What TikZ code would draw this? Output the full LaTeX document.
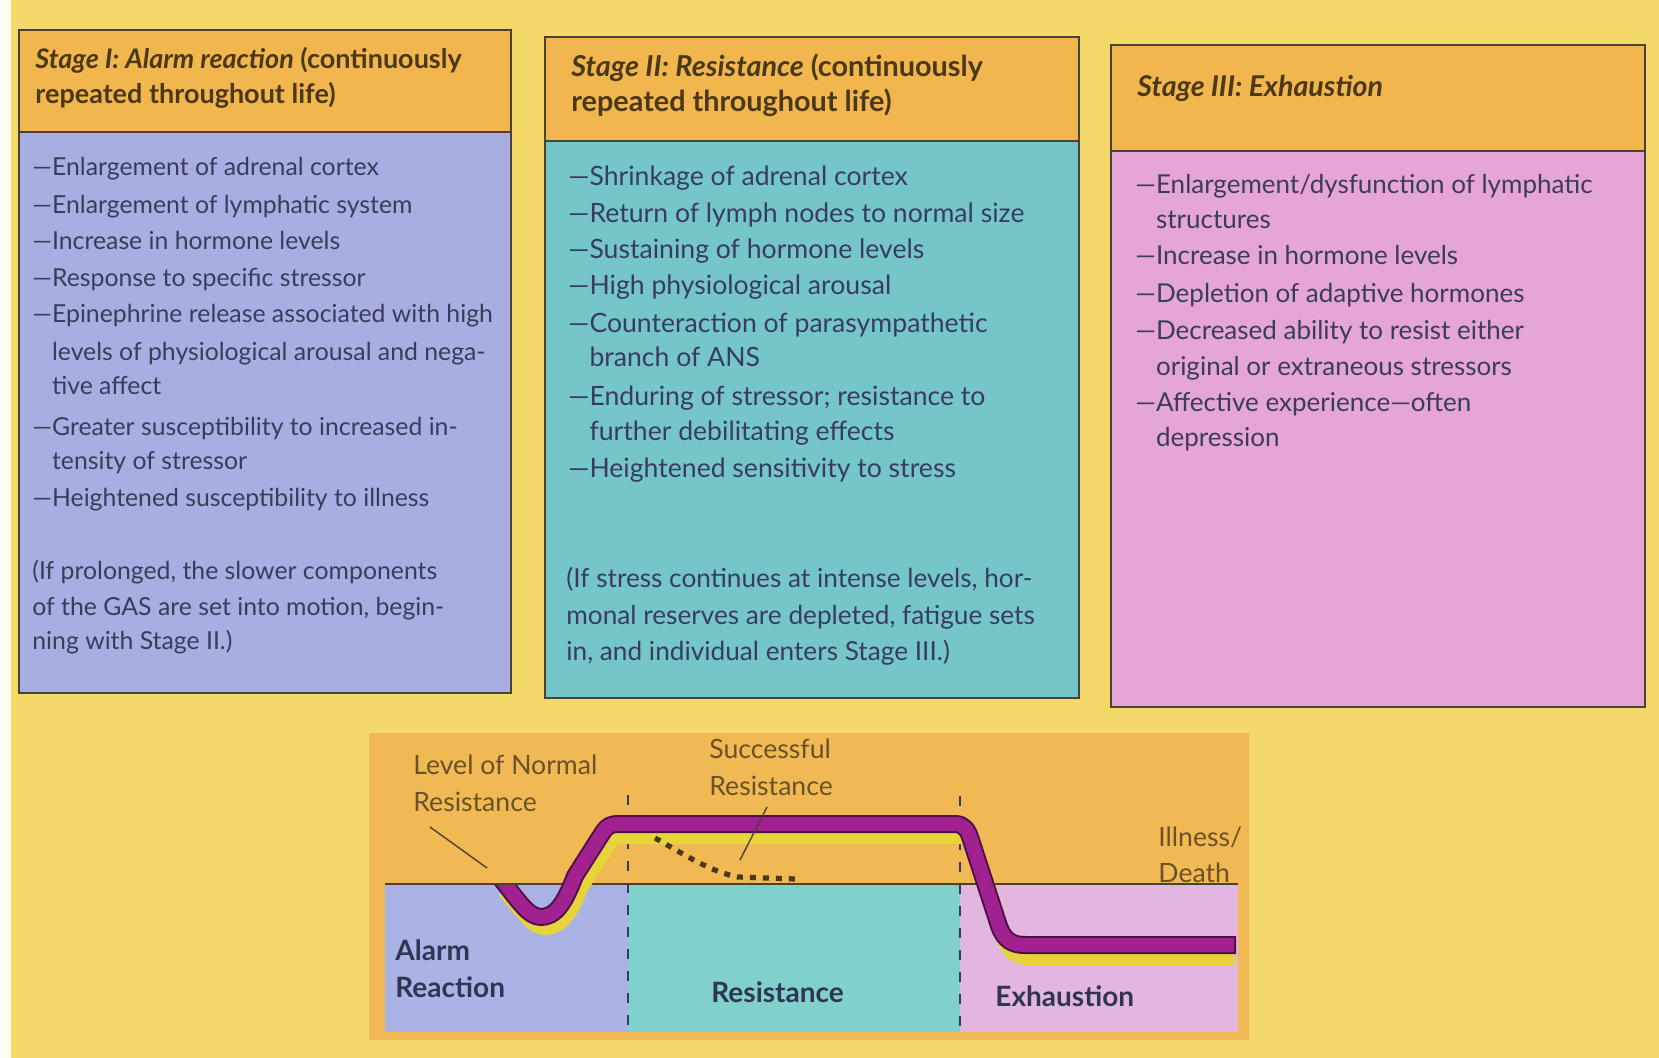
\documentclass[tikz,border=0pt]{standalone}
\usepackage{fontspec}
\setmainfont{Lato}
\definecolor{pagebg}{HTML}{F5D86A}
\definecolor{headbg}{HTML}{F1B64E}
\definecolor{boxa}{HTML}{A8AEE2}
\definecolor{boxb}{HTML}{74C6C9}
\definecolor{boxc}{HTML}{E6A5D7}
\definecolor{frame}{HTML}{4A4236}
\definecolor{txtc}{HTML}{3A3C5C}
\definecolor{headc}{HTML}{4A3818}
\definecolor{chorange}{HTML}{F0B954}
\definecolor{chblue}{HTML}{AAB2E6}
\definecolor{chteal}{HTML}{80D0CC}
\definecolor{chpink}{HTML}{E2B6DF}
\definecolor{purp}{HTML}{A0218F}
\definecolor{purpdark}{HTML}{4E0F48}
\definecolor{shadowy}{HTML}{E6D43A}
\definecolor{lblc}{HTML}{6A5228}
\definecolor{boldlbl}{HTML}{2F3552}
\definecolor{dashc}{HTML}{2F3A6B}
\begin{document}
\begin{tikzpicture}[x=0.5pt,y=-0.5pt,
  bodytxt/.style={anchor=mid west, inner sep=0pt, font=\fontsize{#1}{15}\selectfont, text=txtc},
  headtxt/.style={anchor=mid west, inner sep=0pt, font=\bfseries\fontsize{#1}{15}\selectfont, text=headc},
  chtxt/.style={anchor=mid west, inner sep=0pt, font=\fontsize{13.3}{15}\selectfont, text=lblc},
  chbold/.style={anchor=mid west, inner sep=0pt, font=\bfseries\fontsize{14}{15}\selectfont, text=boldlbl},
  boxframe/.style={draw=frame, line width=1pt},
  leader/.style={draw=frame, line width=0.7pt},
  stagedash/.style={draw=dashc, line width=1.3pt, dash pattern=on 5pt off 6pt}]
\useasboundingbox (0,0) rectangle (1659,1058);
% page
\fill[pagebg] (0,0) rectangle (1659,1058);
\fill[white!92!pagebg] (0,0) rectangle (11,1058);

% ---------- Box 1 ----------
\fill[headbg] (19,30) rectangle (511,132);
\fill[boxa] (19,132) rectangle (511,693);
\draw[boxframe] (19,30) rectangle (511,693);
\draw[boxframe] (19,132) -- (511,132);
\node[headtxt=13.5] (h1a) at (35,63) {\textit{Stage I: Alarm reaction} (continuously};
\node[headtxt=13.5] (h1b) at (35,98) {repeated throughout life)};
\node[bodytxt=12.4] (a1) at (32,170) {—Enlargement of adrenal cortex};
\node[bodytxt=12.4] (a2) at (32,208) {—Enlargement of lymphatic system};
\node[bodytxt=12.4] (a3) at (32,244) {—Increase in hormone levels};
\node[bodytxt=12.4] (a4) at (32,281) {—Response to specific stressor};
\node[bodytxt=12.4] (a5) at (32,317) {—Epinephrine release associated with high};
\node[bodytxt=12.4] (a6) at (32,355) {\phantom{—}levels of physiological arousal and nega-};
\node[bodytxt=12.4] (a7) at (32,389) {\phantom{—}tive affect};
\node[bodytxt=12.4] (a8) at (32,430) {—Greater susceptibility to increased in-};
\node[bodytxt=12.4] (a9) at (32,464) {\phantom{—}tensity of stressor};
\node[bodytxt=12.4] (a10) at (32,501) {—Heightened susceptibility to illness};
\node[bodytxt=12.4] (a11) at (32,574) {(If prolonged, the slower components};
\node[bodytxt=12.4] (a12) at (32,610) {of the GAS are set into motion, begin-};
\node[bodytxt=12.4] (a13) at (32,644) {ning with Stage II.)};

% ---------- Box 2 ----------
\fill[headbg] (545,37) rectangle (1079,141);
\fill[boxb] (545,141) rectangle (1079,698);
\draw[boxframe] (545,37) rectangle (1079,698);
\draw[boxframe] (545,141) -- (1079,141);
\node[headtxt=14.4] (h2a) at (571,71) {\textit{Stage II: Resistance} (continuously};
\node[headtxt=14.4] (h2b) at (571,106) {repeated throughout life)};
\node[bodytxt=13.3] (b1) at (568,180) {—Shrinkage of adrenal cortex};
\node[bodytxt=13.3] (b2) at (568,217) {—Return of lymph nodes to normal size};
\node[bodytxt=13.3] (b3) at (568,253) {—Sustaining of hormone levels};
\node[bodytxt=13.3] (b4) at (568,289) {—High physiological arousal};
\node[bodytxt=13.3] (b5) at (568,327) {—Counteraction of parasympathetic};
\node[bodytxt=13.3] (b6) at (568,361) {\phantom{—}branch of ANS};
\node[bodytxt=13.3] (b7) at (568,400) {—Enduring of stressor; resistance to};
\node[bodytxt=13.3] (b8) at (568,435) {\phantom{—}further debilitating effects};
\node[bodytxt=13.3] (b9) at (568,472) {—Heightened sensitivity to stress};
\node[bodytxt=13.1] (b10) at (566,582) {(If stress continues at intense levels, hor-};
\node[bodytxt=13.1] (b11) at (566,619) {monal reserves are depleted, fatigue sets};
\node[bodytxt=13.1] (b12) at (566,655) {in, and individual enters Stage III.)};

% ---------- Box 3 ----------
\fill[headbg] (1111,45) rectangle (1645,151);
\fill[boxc] (1111,151) rectangle (1645,707);
\draw[boxframe] (1111,45) rectangle (1645,707);
\draw[boxframe] (1111,151) -- (1645,151);
\node[headtxt=14.3] (h3a) at (1137,91) {\textit{Stage III: Exhaustion}};
\node[bodytxt=13] (c1) at (1135,188) {—Enlargement/dysfunction of lymphatic};
\node[bodytxt=13] (c2) at (1135,223) {\phantom{—}structures};
\node[bodytxt=13] (c3) at (1135,259) {—Increase in hormone levels};
\node[bodytxt=13] (c4) at (1135,297) {—Depletion of adaptive hormones};
\node[bodytxt=13] (c5) at (1135,334) {—Decreased ability to resist either};
\node[bodytxt=13] (c6) at (1135,370) {\phantom{—}original or extraneous stressors};
\node[bodytxt=13] (c7) at (1135,406) {—Affective experience—often};
\node[bodytxt=13] (c8) at (1135,441) {\phantom{—}depression};

% ---------- Chart ----------
\fill[chorange] (369,733) rectangle (1249,1040);
\fill[chblue] (385,884) rectangle (628,1032);
\fill[chteal] (628,884) rectangle (960,1032);
\fill[chpink] (960,884) rectangle (1238,1032);
\draw[frame, line width=1.3pt] (385,884) -- (1238,884);
\draw[stagedash] (628,795) -- (628,1032);
\draw[stagedash] (960,796) -- (960,1032);

% shadow of the curve
\draw[shadowy, line width=8pt, line join=round, shift={(5,12)}]
  (500,878) .. controls (520,902) and (528,915) .. (540,915)
  .. controls (555,915) and (565,902) .. (575,876) -- (603,832)
  .. controls (607,826) and (611,824) .. (618,824) -- (955,824)
  .. controls (964,824) and (968,830) .. (971,840) -- (999,926)
  .. controls (1004,940) and (1012,945) .. (1025,945) -- (1230,945);
% curve outline and body
\draw[purpdark, line width=9pt, line join=round]
  (497,874) .. controls (518,900) and (528,917) .. (541,917)
  .. controls (556,917) and (565,902) .. (575,876) -- (603,832)
  .. controls (607,826) and (611,824) .. (618,824) -- (955,824)
  .. controls (964,824) and (968,830) .. (971,840) -- (999,926)
  .. controls (1004,940) and (1012,945) .. (1025,945) -- (1236,945);
\draw[purp, line width=7pt, line join=round]
  (496,872) .. controls (518,900) and (528,917) .. (541,917)
  .. controls (556,917) and (565,902) .. (575,876) -- (603,832)
  .. controls (607,826) and (611,824) .. (618,824) -- (955,824)
  .. controls (964,824) and (968,830) .. (971,840) -- (999,926)
  .. controls (1004,940) and (1012,945) .. (1025,945) -- (1234,945);
% re-cover the start of the curve above the baseline
\fill[chorange] (480,840) rectangle (520,882.5);
\draw[frame, line width=1.3pt] (480,884) -- (520,884);

% successful resistance (dotted)
\draw[headc, line width=2.6pt, dash pattern=on 3pt off 3.5pt]
  (655,838) .. controls (690,858) and (712,872) .. (738,877) -- (795,879);

% labels
\node[chtxt] (lvl1) at (413,769) {Level of Normal};
\node[chtxt] (lvl2) at (413,806) {Resistance};
\node[chtxt] (suc1) at (709,753) {Successful};
\node[chtxt] (suc2) at (709,790) {Resistance};
\node[chtxt] (ill1) at (1158,841) {Illness/};
\node[chtxt] (ill2) at (1158,877) {Death};
\node[chbold] (al1) at (395,955) {Alarm};
\node[chbold] (al2) at (395,992) {Reaction};
\node[chbold] (res) at (711,997) {Resistance};
\node[chbold] (exh) at (995,1001) {Exhaustion};

\coordinate (lvlA) at (430,827);
\coordinate (lvlB) at (487,868);
\coordinate (sucA) at (767,807);
\coordinate (sucB) at (740,860);
\draw[leader] (lvlA) -- (lvlB);
\draw[leader] (sucA) -- (sucB);
\end{tikzpicture}
\end{document}
